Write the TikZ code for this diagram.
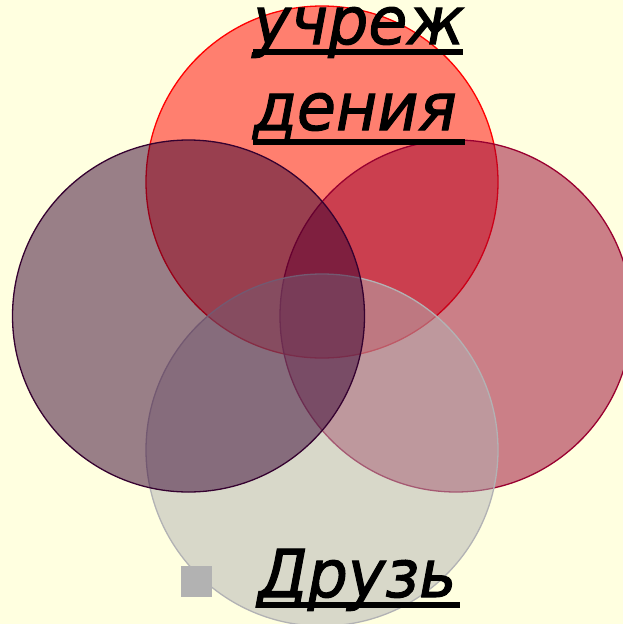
\documentclass[tikz,border=0pt]{standalone}
\usepackage{fontspec}
\setmainfont{DejaVu Sans}
\newfontfamily\wordfont[FakeStretch=0.96,FakeBold=1.6]{DejaVu Sans}
\definecolor{bgyellow}{HTML}{FFFFE0}
\definecolor{topred}{HTML}{FF0000}
\definecolor{rightcrim}{HTML}{990030}
\definecolor{leftpurp}{HTML}{350130}
\definecolor{botgray}{HTML}{B2B2B4}
\definecolor{bulletgray}{HTML}{B2B2B2}
\begin{document}
\begin{tikzpicture}[x=1pt,y=-1pt,
  ring/.style={circle,minimum size=352pt,inner sep=0pt,fill opacity=0.5,line width=1.3pt},
  bigword/.style={anchor=base west,inner sep=0pt,font=\wordfont\fontsize{66}{74}\selectfont\itshape},
  uline/.style={line width=6pt,black}]
\fill[bgyellow] (0,0) rectangle (623,624);
\useasboundingbox (0,0) rectangle (623,624);
\node[ring,draw=topred,fill=topred] (top) at (322,182) {};
\node[ring,draw=rightcrim,fill=rightcrim] (right) at (456,316) {};
\node[ring,draw=botgray,fill=botgray] (bottom) at (322,450) {};
\node[ring,draw=leftpurp,fill=leftpurp] (left) at (188.5,316) {};
\node[bigword] (w1) at (253,44) {учреж};
\node[bigword] (w2) at (253,130) {дения};
\node[bigword] (w3) at (258,597) {Друзь};
\coordinate (u1a) at (253,52); \coordinate (u1b) at (463,52);
\coordinate (u2a) at (253,142); \coordinate (u2b) at (465,142);
\coordinate (u3a) at (258,605); \coordinate (u3b) at (460,605);
\draw[uline] (u1a) -- (u1b);
\draw[uline] (u2a) -- (u2b);
\draw[uline] (u3a) -- (u3b);
\node[fill=bulletgray,minimum size=31pt,inner sep=0pt] (bullet) at (196.5,581) {};
\end{tikzpicture}
\end{document}
